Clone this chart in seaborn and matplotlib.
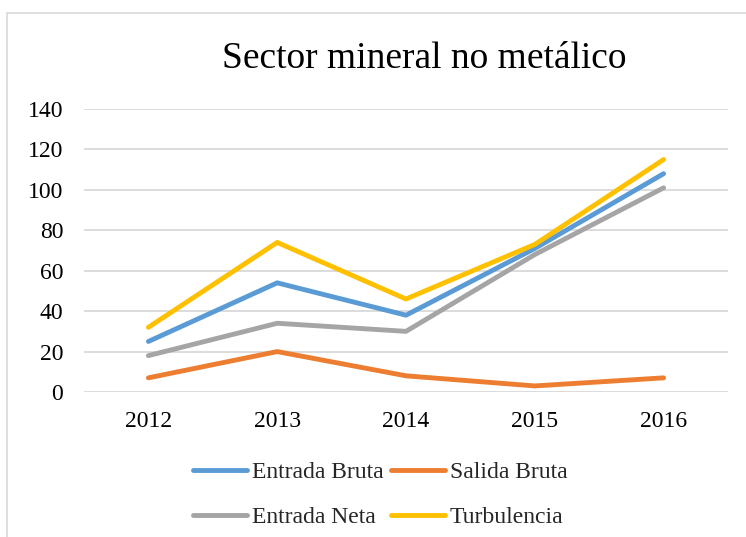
import matplotlib
matplotlib.use("Agg")
import matplotlib.pyplot as plt
from matplotlib.patches import Rectangle
import seaborn as sns
import pandas as pd

years = ["2012", "2013", "2014", "2015", "2016"]
entrada_bruta = [25, 54, 38, 71, 108]
salida_bruta = [7, 20, 8, 3, 7]
entrada_neta = [18, 34, 30, 68, 101]
turbulencia = [32, 74, 46, 73, 115]

series_names = ["Entrada Bruta", "Salida Bruta", "Entrada Neta", "Turbulencia"]
series_values = [entrada_bruta, salida_bruta, entrada_neta, turbulencia]
colors = ["#5B9BD5", "#ED7D31", "#A5A5A5", "#FFC000"]

df = pd.DataFrame(
    [(y, name, v) for name, vals in zip(series_names, series_values)
     for y, v in zip(years, vals)],
    columns=["Año", "Serie", "Valor"],
)

sns.set_theme(style="white")
plt.rcParams["font.family"] = ["Liberation Serif", "DejaVu Serif"]

fig = plt.figure(figsize=(7.46, 5.37), dpi=100)
ax = fig.add_axes([84 / 746, 1 - 392 / 537, 644 / 746, 283 / 537])

sns.lineplot(
    data=df, x="Año", y="Valor", hue="Serie", hue_order=series_names,
    palette=colors, linewidth=3.5, ax=ax, legend=False, sort=False,
)
for line in ax.lines:
    line.set_solid_capstyle("round")
    line.set_solid_joinstyle("round")

ax.set_xlim(-0.5, len(years) - 0.5)
ax.set_ylim(0, 140)
ax.set_yticks(range(0, 141, 20))
ax.set_xlabel("")
ax.set_ylabel("")
ax.yaxis.grid(True, color="#D9D9D9", linewidth=1.3)
ax.xaxis.grid(False)
ax.set_axisbelow(True)
for s in ax.spines.values():
    s.set_visible(False)
ax.tick_params(axis="y", length=0, pad=15, labelsize=17, colors="black")
ax.tick_params(axis="x", length=0, pad=14, labelsize=17, colors="black")

fig.text(424 / 746, 1 - 59 / 537, "Sector mineral no metálico",
         ha="center", va="center", fontsize=27, color="black")

# outer chart frame
fig.patches.append(Rectangle((7 / 746, -0.05), 1.2, 1 - 13 / 537 + 0.05,
                             transform=fig.transFigure, fill=False,
                             edgecolor="#D9D9D9", linewidth=1.2))

handles = ax.lines[:4]
order = [0, 2, 1, 3]
leg = fig.legend(
    [handles[i] for i in order], [series_names[i] for i in order],
    ncol=2, loc="center", bbox_to_anchor=(380 / 746, 1 - 495 / 537),
    frameon=False, fontsize=17, handlelength=2.3, handletextpad=0.2,
    columnspacing=0.3, labelspacing=1.0, borderpad=0,
)

fig.savefig("out.png", dpi=100, facecolor="white")
